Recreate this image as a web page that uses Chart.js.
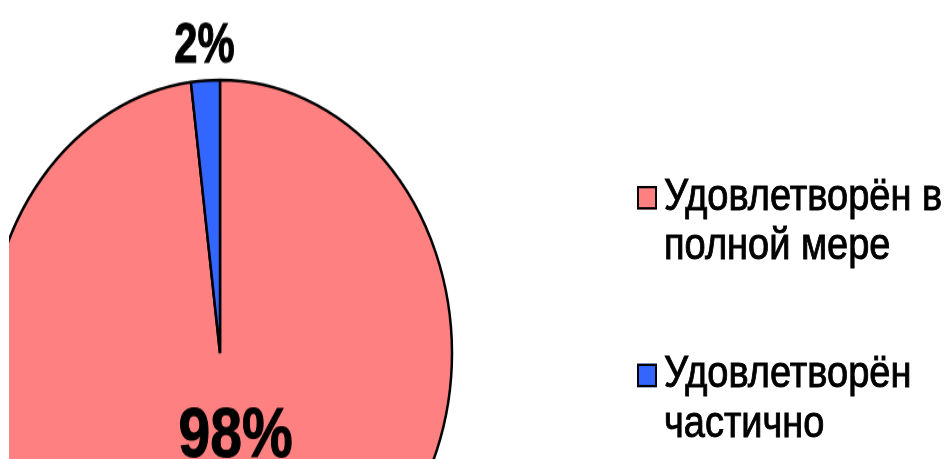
<!DOCTYPE html>
<html>
<head>
<meta charset="utf-8">
<script src="https://cdn.jsdelivr.net/npm/chart.js@4/dist/chart.umd.min.js"></script>
<style>
  html, body { margin: 0; padding: 0; background: #fff; width: 952px; height: 459px; overflow: hidden; }
  #stage { position: relative; width: 952px; height: 390px; transform: scaleY(1.177); transform-origin: 0 0; }
  #clip { position: absolute; left: 9px; top: 0; width: 943px; height: 390px; overflow: hidden; }
  #chartWrap { position: absolute; left: -9px; top: 0; width: 952px; height: 600px; }
  #legend { position: absolute; left: 637px; top: 0; width: 315px; font-family: "Liberation Sans", Arial, sans-serif; font-size: 38px; line-height: 42px; color: #000; -webkit-text-stroke: 0.8px #000; }
  .item { position: absolute; left: 0; display: flex; align-items: flex-start; }
  .sw { width: 16px; height: 16px; border: 2px solid #000; margin-top: 14px; flex: none; -webkit-text-stroke: 0; }
  .txt { margin-left: 7px; width: 300px; }
</style>
</head>
<body>
<div id="stage">
  <div id="clip"><div id="chartWrap"><canvas id="c"></canvas></div></div>
  <div id="legend"></div>
</div>
<script>
const categories = ["Удовлетворён в полной мере", "Удовлетворён частично"];
const values = [98, 2];
const valueLabels = ["98%", "2%"];
const colors = ["#FF8080", "#3366FF"];

// HTML legend built from the category array
const legendTops = [144, 295];
const legend = document.getElementById('legend');
categories.forEach((cat, i) => {
  const it = document.createElement('div');
  it.className = 'item';
  it.style.top = legendTops[i] + 'px';
  const sw = document.createElement('div');
  sw.className = 'sw';
  sw.style.background = colors[i];
  const tx = document.createElement('div');
  tx.className = 'txt';
  tx.textContent = cat;
  it.appendChild(sw);
  it.appendChild(tx);
  legend.appendChild(it);
});

const labelPlugin = {
  id: 'sliceLabels',
  afterDatasetsDraw(chart, args, opts) {
    const ctx = chart.ctx;
    const meta = chart.getDatasetMeta(0);
    meta.data.forEach((arc, i) => {
      const p = arc.getProps(['x', 'y', 'startAngle', 'endAngle', 'outerRadius'], true);
      const mid = (p.startAngle + p.endAngle) / 2;
      const r = p.outerRadius * opts.radiusFactor[i];
      const x = p.x + Math.cos(mid) * r + opts.offsetX[i];
      const y = p.y + Math.sin(mid) * r;
      ctx.save();
      ctx.translate(x, y);
      ctx.scale(opts.squeeze[i], 1);
      ctx.font = 'bold ' + opts.fontSize[i] + 'px "Liberation Sans", Arial, sans-serif';
      ctx.fillStyle = '#000';
      ctx.strokeStyle = '#000';
      ctx.lineWidth = 1;
      ctx.textAlign = 'center';
      ctx.textBaseline = 'alphabetic';
      ctx.fillText(valueLabels[i], 0, 0);
      ctx.strokeText(valueLabels[i], 0, 0);
      ctx.restore();
    });
  }
};

new Chart(document.getElementById('c'), {
  type: 'pie',
  data: {
    labels: categories,
    datasets: [{
      data: values,
      backgroundColor: colors,
      borderColor: '#000',
      borderWidth: 2.5
    }]
  },
  options: {
    responsive: true,
    maintainAspectRatio: false,
    animation: false,
    radius: 232,
    layout: { padding: { left: 0, right: 512, top: 0, bottom: 0 } },
    plugins: {
      legend: { display: false },
      tooltip: { enabled: false },
      sliceLabels: { radiusFactor: [0.38, 1.066], offsetX: [10, 0], fontSize: [60, 48], squeeze: [0.95, 0.87] }
    },
    events: []
  },
  plugins: [labelPlugin]
});
</script>
</body>
</html>
